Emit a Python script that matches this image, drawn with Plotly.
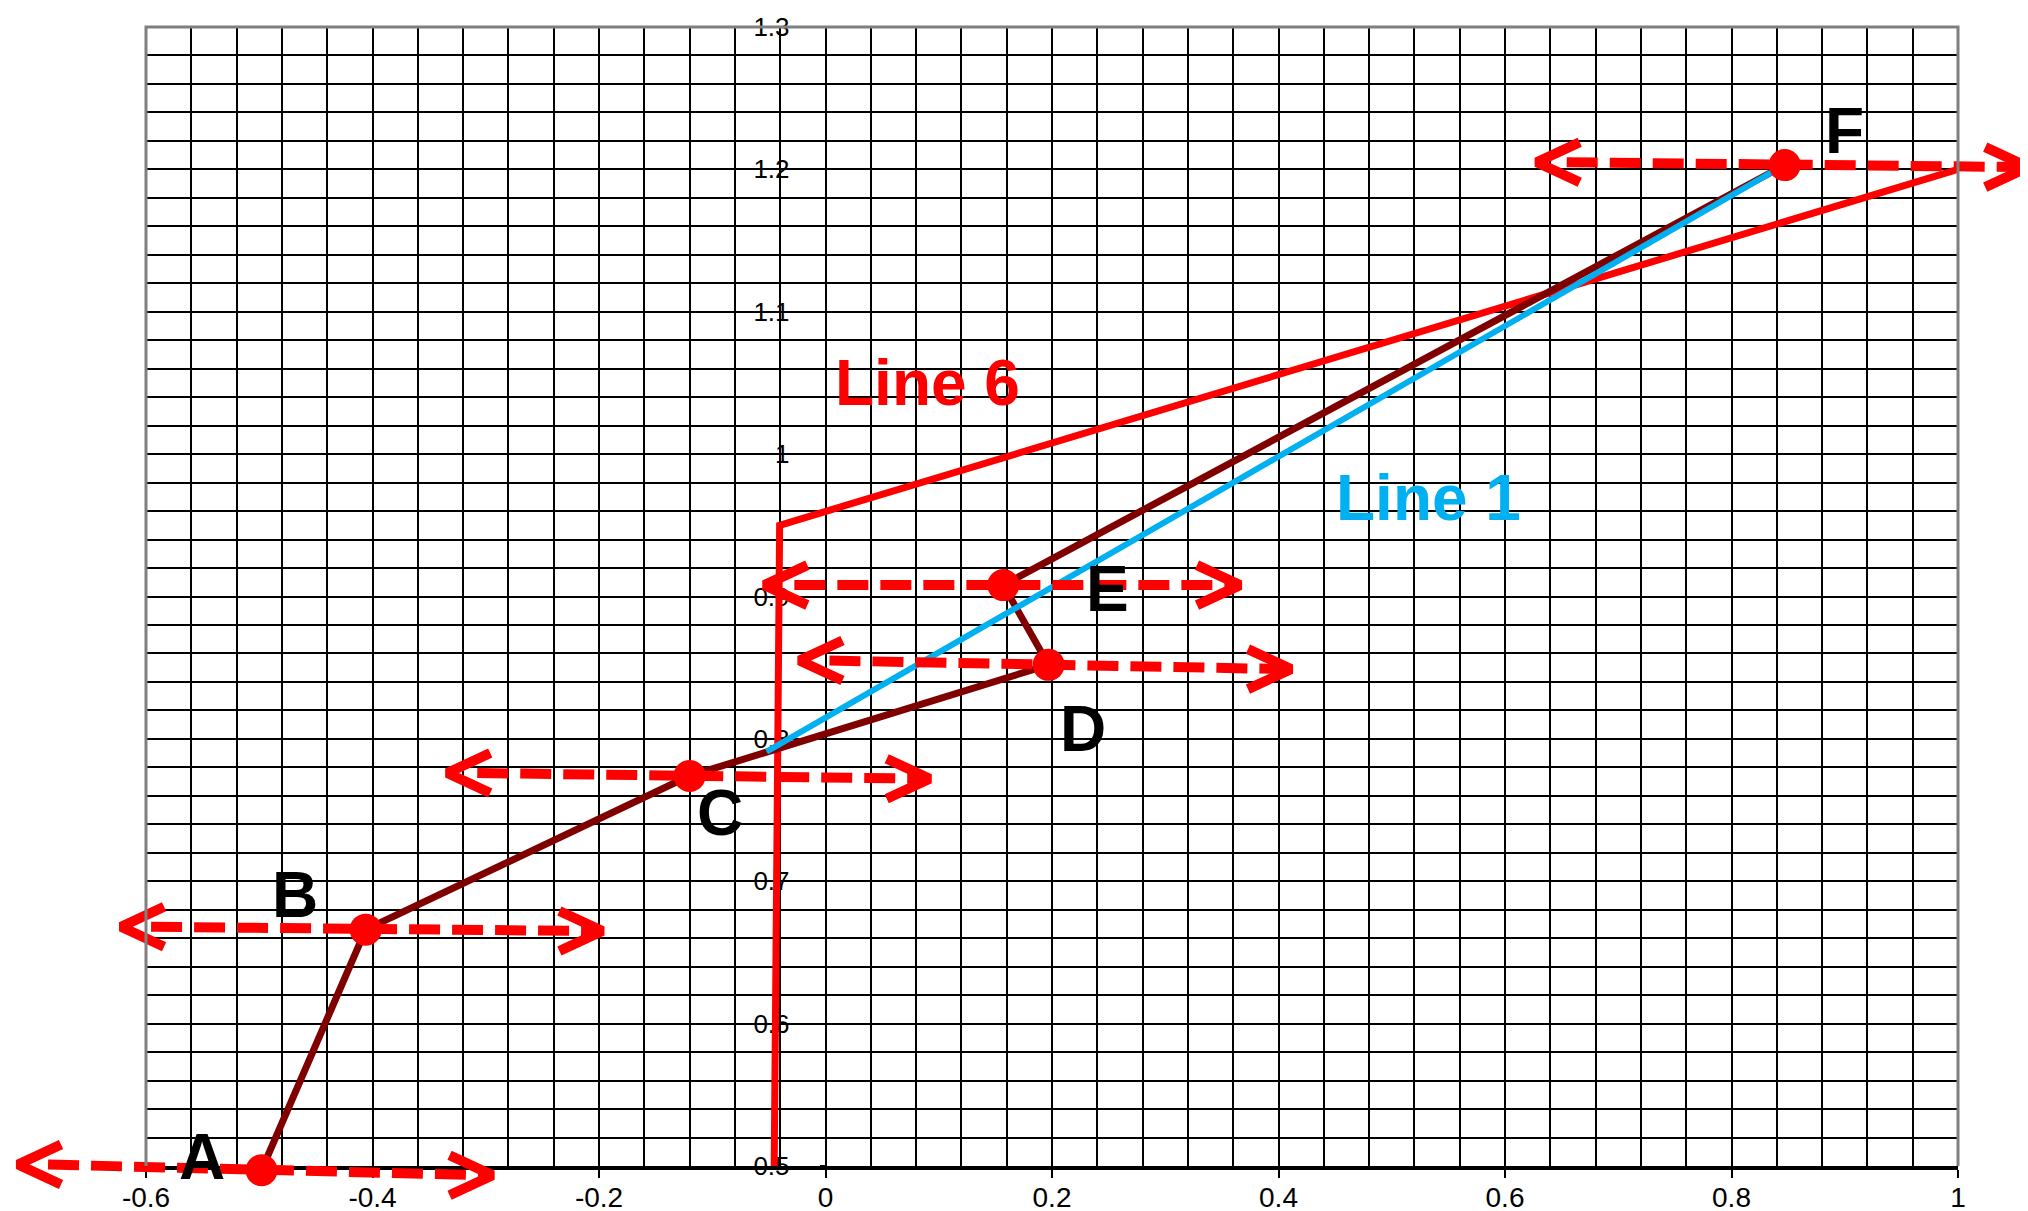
import plotly.graph_objects as go

# ---------------- data ----------------
point_labels = ["A", "B", "C", "D", "E", "F"]
point_x = [-0.498, -0.406, -0.120, 0.197, 0.157, 0.847]
point_y = [0.497, 0.666, 0.774, 0.852, 0.908, 1.203]

# horizontal double-headed dashed arrows through each point
arrow_left_x = [-0.713, -0.622, -0.334, -0.023, -0.054, 0.628]
arrow_right_x = [-0.294, -0.197, 0.092, 0.411, 0.366, 1.062]
arrow_left_y = [0.501, 0.668, 0.776, 0.855, 0.908, 1.205]
arrow_right_y = [0.4935, 0.665, 0.772, 0.849, 0.908, 1.2016]

line6_x = [-0.0453, -0.0405, 1.0]
line6_y = [0.5, 0.950, 1.2]

line1_x = [-0.052, 0.841]
line1_y = [0.791, 1.2005]

letter_x = [-0.5455, -0.463, -0.088, 0.233, 0.254, 0.9055]
letter_y = [0.501, 0.685, 0.742, 0.801, 0.900, 1.221]

line_label_text = ["Line 6", "Line 1"]
line_label_x = [0.095, 0.538]
line_label_y = [1.045, 0.964]

x_ticks = [-0.6, -0.4, -0.2, 0, 0.2, 0.4, 0.6, 0.8, 1]
x_tick_labels = ["-0.6", "-0.4", "-0.2", "0", "0.2", "0.4", "0.6", "0.8", "1"]
y_ticks = [0.5, 0.6, 0.7, 0.8, 0.9, 1.0, 1.1, 1.2, 1.3]
y_tick_labels = ["0.5", "0.6", "0.7", "0.8", "0.9", "1", "1.1", "1.2", "1.3"]

X_MIN, X_MAX = -0.6, 1.0
Y_MIN, Y_MAX = 0.5, 1.3

# ---------------- layout constants ----------------
W, H = 2028, 1211
PL, PR, PT, PB = 138, 1950, 19, 1158   # plot area edges in px

RED = "#FF0000"
MAROON = "#800000"
CYAN = "#00B0F0"
FONT = "Liberation Sans"
GRID_W = 1.5

ux = (X_MAX - X_MIN) / (PR - PL)
uy = (Y_MAX - Y_MIN) / (PB - PT)
x2_range = [X_MIN - PL * ux, X_MAX + (W - PR) * ux]
y2_range = [Y_MIN - (H - PB) * uy, Y_MAX + PT * uy]

HEAD_DX = 43 * ux
HEAD_DY = 20 * uy
SHAFT_GAP = 30 * ux

fig = go.Figure()

# main lines (clipped subplot)
fig.add_trace(go.Scatter(x=line6_x, y=line6_y, mode="lines",
                         line=dict(color=RED, width=7), xaxis="x", yaxis="y"))
fig.add_trace(go.Scatter(x=point_x, y=point_y, mode="lines",
                         line=dict(color=MAROON, width=7), xaxis="x", yaxis="y"))
fig.add_trace(go.Scatter(x=line1_x, y=line1_y, mode="lines",
                         line=dict(color=CYAN, width=6), xaxis="x", yaxis="y"))

# arrows on the overlay subplot (not clipped to the grid)
sx, sy, hx, hy = [], [], [], []
for lx, rx, ly, ry in zip(arrow_left_x, arrow_right_x, arrow_left_y, arrow_right_y):
    sx += [lx + SHAFT_GAP, rx - 5 * ux, None]
    sy += [ly, ry, None]
    hx += [lx + HEAD_DX, lx, lx + HEAD_DX, None, rx - HEAD_DX, rx, rx - HEAD_DX, None]
    hy += [ly + HEAD_DY, ly, ly - HEAD_DY, None, ry + HEAD_DY, ry, ry - HEAD_DY, None]

fig.add_trace(go.Scatter(x=sx, y=sy, mode="lines",
                         line=dict(color=RED, width=10, dash="31px,12px"),
                         xaxis="x2", yaxis="y2"))
fig.add_trace(go.Scatter(x=hx, y=hy, mode="lines",
                         line=dict(color=RED, width=10),
                         xaxis="x2", yaxis="y2"))
fig.add_trace(go.Scatter(x=point_x, y=point_y, mode="markers",
                         marker=dict(color=RED, size=32, line=dict(width=0)),
                         xaxis="x2", yaxis="y2", cliponaxis=False))

# letters
for t, x, y in zip(point_labels, letter_x, letter_y):
    fig.add_annotation(x=x, y=y, xref="x", yref="y", text=t, showarrow=False,
                       xshift=-6, yshift=8,
                       font=dict(family=FONT, size=64, color="black", weight="bold"))

for t, x, y, c in zip(line_label_text, line_label_x, line_label_y, [RED, CYAN]):
    fig.add_annotation(x=x, y=y, xref="x", yref="y", text=t, showarrow=False,
                       xshift=-6, yshift=7,
                       font=dict(family=FONT, size=64, color=c, weight="bold"))

# grey border on left / top / right
fig.add_shape(type="path", xref="x domain", yref="y domain",
              path="M0,0 L0,1 L1,1 L1,0", line=dict(color="#808080", width=3),
              layer="above")

y_axis_pos = PL / W + (0 - X_MIN) / (X_MAX - X_MIN) * (PR - PL) / W

fig.update_layout(
    width=W, height=H,
    margin=dict(l=0, r=0, t=0, b=0, autoexpand=False),
    paper_bgcolor="white", plot_bgcolor="rgba(0,0,0,0)",
    showlegend=False,
    xaxis=dict(domain=[PL / W, PR / W], range=[X_MIN, X_MAX], anchor="y",
               tickmode="array", tickvals=x_ticks, ticktext=x_tick_labels,
               showgrid=True, gridcolor="black", gridwidth=GRID_W,
               minor=dict(tick0=X_MIN, dtick=0.04, showgrid=True,
                          gridcolor="black", gridwidth=GRID_W, ticks=""),
               zeroline=False, showline=True, linecolor="black", linewidth=4,
               ticks="outside", ticklen=8, tickwidth=2, tickcolor="black",
               tickfont=dict(family=FONT, size=28, color="black"),
               ticklabelstandoff=-5, layer="below traces", automargin=False,
               fixedrange=True),
    yaxis=dict(domain=[1 - PB / H, 1 - PT / H], range=[Y_MIN, Y_MAX],
               anchor="free", position=y_axis_pos,
               tickmode="array", tickvals=y_ticks, ticktext=y_tick_labels,
               showgrid=True, gridcolor="black", gridwidth=GRID_W,
               minor=dict(tick0=Y_MIN, dtick=0.02, showgrid=True,
                          gridcolor="black", gridwidth=GRID_W, ticks=""),
               zeroline=False, showline=True, linecolor="black", linewidth=1.5,
               ticks="outside", ticklen=5, tickwidth=1.5, tickcolor="black",
               tickfont=dict(family=FONT, size=26, color="black"),
               ticklabelstandoff=25, layer="below traces", automargin=False,
               fixedrange=True),
    xaxis2=dict(domain=[0, 1], range=x2_range, anchor="y2", visible=False,
                fixedrange=True),
    yaxis2=dict(domain=[0, 1], range=y2_range, anchor="x2", visible=False,
                fixedrange=True),
)

fig.write_html("out.html")
